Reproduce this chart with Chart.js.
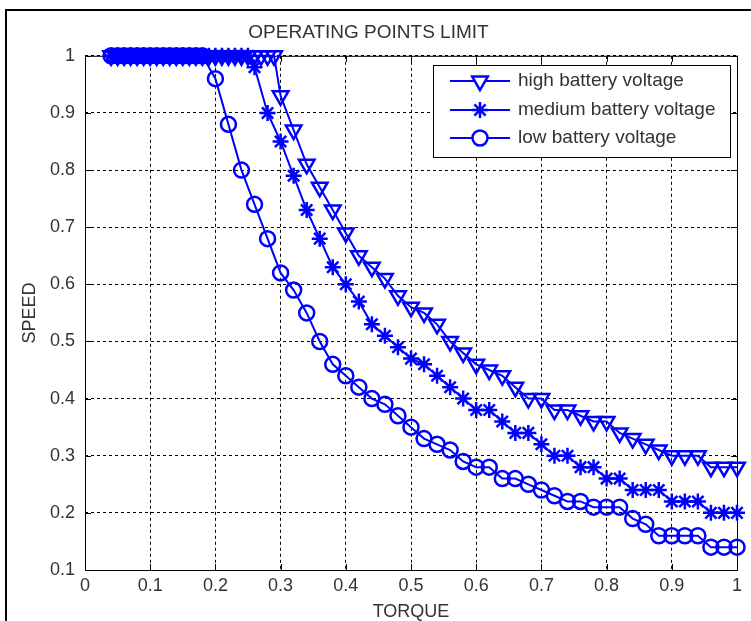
<!DOCTYPE html>
<html>
<head>
<meta charset="utf-8">
<title>OPERATING POINTS LIMIT</title>
<script src="https://cdn.jsdelivr.net/npm/chart.js@4.4.1/dist/chart.umd.min.js"></script>
<style>
  html, body { margin: 0; padding: 0; background: #fff; }
  #wrap { width: 751px; height: 621px; }
</style>
</head>
<body>
<div id="wrap"><canvas id="opChart" width="751" height="621"></canvas></div>
<script>
// values (torque -> speed)
const highTorque = [0.04, 0.05, 0.06, 0.07, 0.08, 0.09, 0.10, 0.11, 0.12, 0.13, 0.14, 0.15, 0.16, 0.17, 0.18, 0.19, 0.20, 0.21, 0.22, 0.23, 0.24, 0.25, 0.26, 0.27, 0.28, 0.29,
  0.30, 0.32, 0.34, 0.36, 0.38, 0.40, 0.42, 0.44, 0.46, 0.48, 0.50, 0.52, 0.54, 0.56, 0.58, 0.60, 0.62, 0.64, 0.66, 0.68,
  0.70, 0.72, 0.74, 0.76, 0.78, 0.80, 0.82, 0.84, 0.86, 0.88, 0.90, 0.92, 0.94, 0.96, 0.98, 1.00];
const highSpeed = [1, 1, 1, 1, 1, 1, 1, 1, 1, 1, 1, 1, 1, 1, 1, 1, 1, 1, 1, 1, 1, 1, 1, 1, 1, 1,
  0.93, 0.87, 0.81, 0.77, 0.73, 0.69, 0.65, 0.63, 0.61, 0.58, 0.56, 0.55, 0.53, 0.50, 0.48, 0.46, 0.45, 0.44, 0.42, 0.40,
  0.40, 0.38, 0.38, 0.37, 0.36, 0.36, 0.34, 0.33, 0.32, 0.31, 0.30, 0.30, 0.30, 0.28, 0.28, 0.28];

const mediumTorque = [0.04, 0.05, 0.06, 0.07, 0.08, 0.09, 0.10, 0.11, 0.12, 0.13, 0.14, 0.15, 0.16, 0.17, 0.18, 0.19, 0.20, 0.21, 0.22, 0.23, 0.24, 0.25,
  0.26, 0.28, 0.30, 0.32, 0.34, 0.36, 0.38, 0.40, 0.42, 0.44, 0.46, 0.48, 0.50, 0.52, 0.54, 0.56, 0.58, 0.60, 0.62, 0.64, 0.66, 0.68,
  0.70, 0.72, 0.74, 0.76, 0.78, 0.80, 0.82, 0.84, 0.86, 0.88, 0.90, 0.92, 0.94, 0.96, 0.98, 1.00];
const mediumSpeed = [1, 1, 1, 1, 1, 1, 1, 1, 1, 1, 1, 1, 1, 1, 1, 1, 1, 1, 1, 1, 1, 1,
  0.98, 0.90, 0.85, 0.79, 0.73, 0.68, 0.63, 0.60, 0.57, 0.53, 0.51, 0.49, 0.47, 0.46, 0.44, 0.42, 0.40, 0.38, 0.38, 0.36, 0.34, 0.34,
  0.32, 0.30, 0.30, 0.28, 0.28, 0.26, 0.26, 0.24, 0.24, 0.24, 0.22, 0.22, 0.22, 0.20, 0.20, 0.20];

const lowTorque = [0.04, 0.05, 0.06, 0.07, 0.08, 0.09, 0.10, 0.11, 0.12, 0.13, 0.14, 0.15, 0.16, 0.17, 0.18,
  0.20, 0.22, 0.24, 0.26, 0.28, 0.30, 0.32, 0.34, 0.36, 0.38, 0.40, 0.42, 0.44, 0.46, 0.48, 0.50, 0.52, 0.54, 0.56, 0.58,
  0.60, 0.62, 0.64, 0.66, 0.68, 0.70, 0.72, 0.74, 0.76, 0.78, 0.80, 0.82, 0.84, 0.86, 0.88, 0.90, 0.92, 0.94, 0.96, 0.98, 1.00];
const lowSpeed = [1, 1, 1, 1, 1, 1, 1, 1, 1, 1, 1, 1, 1, 1, 1,
  0.96, 0.88, 0.80, 0.74, 0.68, 0.62, 0.59, 0.55, 0.50, 0.46, 0.44, 0.42, 0.40, 0.39, 0.37, 0.35, 0.33, 0.32, 0.31, 0.29,
  0.28, 0.28, 0.26, 0.26, 0.25, 0.24, 0.23, 0.22, 0.22, 0.21, 0.21, 0.21, 0.19, 0.18, 0.16, 0.16, 0.16, 0.16, 0.14, 0.14, 0.14];

const seriesNames = ['high battery voltage', 'medium battery voltage', 'low battery voltage'];
const xTickLabels = ['0', '0.1', '0.2', '0.3', '0.4', '0.5', '0.6', '0.7', '0.8', '0.9', '1'];
const yTickLabels = ['0.1', '0.2', '0.3', '0.4', '0.5', '0.6', '0.7', '0.8', '0.9', '1'];

const BLUE = '#0000ff';
const FONT = "'Liberation Sans', Arial, sans-serif";
const TEXT = '#333333';

function makeSeries(label, torque, speed, style, radius, rotation) {
  return {
    label: label,
    data: torque.map((t, i) => ({ x: t, y: speed[i] })),
    borderColor: BLUE,
    backgroundColor: 'rgba(0,0,0,0)',
    borderWidth: 2,
    pointStyle: style,
    pointRadius: radius,
    pointHoverRadius: radius,
    pointRotation: rotation,
    pointBorderColor: BLUE,
    pointBackgroundColor: 'rgba(0,0,0,0)',
    pointBorderWidth: 2.5,
    tension: 0,
    fill: false,
    clip: false
  };
}

// outer frame, axes box and inward ticks (drawn under the markers)
const boxPlugin = {
  id: 'boxPlugin',
  beforeDatasetsDraw(chart) {
    const { ctx, chartArea: a, scales } = chart;
    ctx.save();
    ctx.strokeStyle = '#000';
    ctx.lineWidth = 1;
    ctx.setLineDash([]);
    ctx.strokeRect(a.left + 0.5, a.top + 0.5, a.right - a.left, a.bottom - a.top);
    ctx.beginPath();
    xTickLabels.forEach(l => {
      const px = Math.round(scales.x.getPixelForValue(parseFloat(l))) + 0.5;
      ctx.moveTo(px, a.bottom); ctx.lineTo(px, a.bottom - 6);
      ctx.moveTo(px, a.top); ctx.lineTo(px, a.top + 6);
    });
    yTickLabels.forEach(l => {
      const py = Math.round(scales.y.getPixelForValue(parseFloat(l))) + 0.5;
      ctx.moveTo(a.left, py); ctx.lineTo(a.left + 6, py);
      ctx.moveTo(a.right, py); ctx.lineTo(a.right - 6, py);
    });
    ctx.stroke();
    // picture border
    ctx.lineWidth = 2;
    ctx.beginPath();
    ctx.moveTo(6, chart.height);
    ctx.lineTo(6, 10);
    ctx.lineTo(chart.width, 10);
    ctx.stroke();
    ctx.restore();
  }
};

// matlab style legend box in the top right corner
const legendPlugin = {
  id: 'legendPlugin',
  afterDatasetsDraw(chart) {
    const ctx = chart.ctx;
    const box = { x: 433, y: 65, w: 297, h: 92 };
    const rows = [81, 110, 138];
    ctx.save();
    ctx.fillStyle = '#fff';
    ctx.fillRect(box.x, box.y, box.w, box.h);
    ctx.strokeStyle = '#000';
    ctx.lineWidth = 1;
    ctx.strokeRect(box.x + 0.5, box.y + 0.5, box.w, box.h);
    chart.data.datasets.forEach((ds, i) => {
      const y = rows[i];
      ctx.strokeStyle = BLUE;
      ctx.lineWidth = 2;
      ctx.beginPath();
      ctx.moveTo(450, y);
      ctx.lineTo(510, y);
      ctx.stroke();
      ctx.fillStyle = '#fff';
      ctx.lineWidth = 2.5;
      Chart.helpers.drawPoint(ctx, {
        pointStyle: ds.pointStyle,
        radius: ds.pointRadius,
        rotation: ds.pointRotation,
        borderWidth: 2.5
      }, 480, y);
      ctx.fillStyle = TEXT;
      ctx.font = '19px ' + FONT;
      ctx.textBaseline = 'middle';
      ctx.textAlign = 'left';
      ctx.fillText(ds.label, 518, y);
    });
    ctx.restore();
  }
};

const ChartManager = {
  init() {
    const ctx = document.getElementById('opChart');
    if (!ctx) return;

    new Chart(ctx, {
      type: 'line',
      data: {
        datasets: [
          makeSeries(seriesNames[0], highTorque, highSpeed, 'triangle', 9, 180),
          makeSeries(seriesNames[1], mediumTorque, mediumSpeed, 'star', 8, 0),
          makeSeries(seriesNames[2], lowTorque, lowSpeed, 'circle', 7.5, 0)
        ]
      },
      options: {
        responsive: false,
        animation: false,
        devicePixelRatio: 1,
        layout: { padding: { left: 0, right: 14, top: 0, bottom: 0 } },
        plugins: {
          legend: { display: false },
          tooltip: { enabled: false },
          title: {
            display: true,
            text: 'OPERATING POINTS LIMIT',
            color: TEXT,
            font: { size: 19, family: FONT, weight: 'normal' },
            padding: { top: 21, bottom: 12 }
          }
        },
        scales: {
          x: {
            type: 'linear',
            min: 0,
            max: 1,
            afterBuildTicks: s => { s.ticks = xTickLabels.map(l => ({ value: parseFloat(l) })); },
            afterFit: s => { s.height = 51; },
            ticks: {
              callback: (v, i) => xTickLabels[i],
              color: TEXT,
              font: { size: 18, family: FONT },
              padding: 5,
              autoSkip: false,
              maxRotation: 0
            },
            grid: { color: '#000', lineWidth: 1, drawTicks: false },
            border: { display: false, dash: [3, 3] },
            title: {
              display: true,
              text: 'TORQUE',
              color: TEXT,
              font: { size: 18, family: FONT },
              padding: { top: 0, bottom: -2 }
            }
          },
          y: {
            type: 'linear',
            min: 0.1,
            max: 1,
            afterBuildTicks: s => { s.ticks = yTickLabels.map(l => ({ value: parseFloat(l) })); },
            afterFit: s => { s.width = 85; },
            ticks: {
              callback: (v, i) => yTickLabels[i],
              color: TEXT,
              font: { size: 18, family: FONT },
              padding: 10,
              autoSkip: false
            },
            grid: { color: '#000', lineWidth: 1, drawTicks: false },
            border: { display: false, dash: [3, 3] },
            title: {
              display: true,
              text: 'SPEED',
              color: TEXT,
              font: { size: 18, family: FONT },
              padding: { top: 19, bottom: 0 }
            }
          }
        }
      },
      plugins: [boxPlugin, legendPlugin]
    });
  }
};

document.addEventListener('DOMContentLoaded', () => {
  ChartManager.init();
});
</script>
</body>
</html>
